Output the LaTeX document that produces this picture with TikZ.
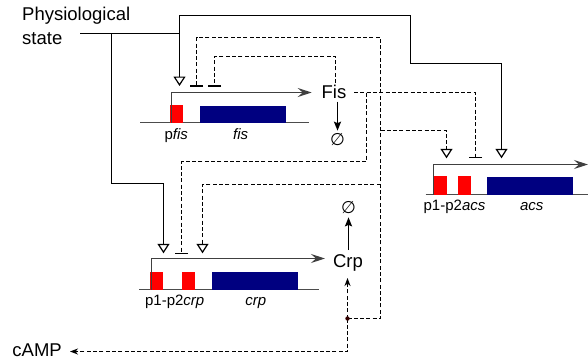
\documentclass[tikz,border=0pt]{standalone}
\usepackage{fontspec}
\setmainfont{Liberation Sans}
\newfontfamily\symfont{DejaVu Sans}
\usetikzlibrary{arrows.meta}
\definecolor{genered}{RGB}{255,0,0}
\definecolor{genenavy}{RGB}{0,0,128}
\begin{document}
\begin{tikzpicture}[x=1pt,y=-1pt,line join=miter,
  ln/.style={line width=1.6pt},
  dsh/.style={line width=1.4pt,dash pattern=on 4pt off 2.3pt},
  dna/.style={draw=black!70,line width=1.2pt},
  tx/.style={draw=black!75,line width=1.2pt,-{Stealth[length=14pt,width=9pt,inset=5pt]}},
  opentri/.tip={Triangle[open,length=9.5pt,width=12pt,fill=white,line width=1.2pt]},
  repbar/.tip={Bar[width=13pt,line width=1.3pt]},
  degr/.tip={Stealth[length=9pt,width=7pt,inset=1.5pt]},
  smallhead/.tip={Stealth[length=8pt,width=6pt,inset=2.5pt]},
  prom/.style={fill=genered},
  cds/.style={fill=genenavy},
  lab/.style={font=\fontsize{18.5}{24}\selectfont,inner sep=0pt},
  nul/.style={font=\symfont\itshape\fontsize{17}{20}\selectfont,inner sep=0pt},
  glab/.style={font=\fontsize{15}{17}\selectfont,inner sep=0pt,anchor=base},
]
\useasboundingbox (0,0) rectangle (588,362);

% ---------- labels ----------
\node[lab,anchor=base west] (phys) at (22,20) {Physiological};
\node[lab,anchor=base west] (state) at (22,44.3) {state};
\node[lab,anchor=base] (Fis) at (334,98) {Fis};
\node[lab,anchor=base] (Crp) at (348,267) {Crp};
\node[lab,anchor=base east] (camp) at (62,356.5) {cAMP};
\node[nul] (e1) at (337.5,140) {∅};
\node[nul] (e2) at (348.5,208) {∅};

% ---------- fis gene ----------
\draw[dna] (140,122.5) coordinate (fisL) -- (309,122.5) coordinate (fisR);
\fill[prom] (170,105) rectangle (183,122.5);
\fill[cds] (200,106) rectangle (286,122.5);
\coordinate (fisTSS) at (171.5,122.5);
\coordinate (fisEnd) at (311.7,92.5);
\draw[tx] (fisTSS) |- (fisEnd);
\node[glab] (pfis) at (176.3,139) {p\textit{fis}};
\node[glab] (fisg) at (240.7,139) {\textit{fis}};

% ---------- crp gene ----------
\draw[dna] (139.3,289.5) -- (319.3,289.5);
\fill[prom] (150,272.3) rectangle (163,289.5);
\fill[prom] (182,272.3) rectangle (195,289.5);
\fill[cds] (212,272.3) rectangle (298,289.5);
\coordinate (crpTSS) at (151.5,289.5);
\coordinate (crpEnd) at (325,258.5);
\draw[tx] (crpTSS) |- (crpEnd);
\node[glab] (pcrp) at (174.7,305.5) {p1-p2\textit{crp}};
\node[glab] (crpg) at (255.7,305.5) {\textit{crp}};

% ---------- acs gene ----------
\draw[dna] (425.7,194.5) -- (588,194.5);
\fill[prom] (433,175.7) rectangle (447,194.5);
\fill[prom] (458,175.7) rectangle (471,194.5);
\fill[cds] (487,176.7) rectangle (573,194.5);
\coordinate (acsTSS) at (433.5,194.5);
\coordinate (acsEnd) at (588,164.5);
\draw[tx] (acsTSS) |- (acsEnd);
\node[glab] (pacs) at (454.5,210) {p1-p2\textit{acs}};
\node[glab] (acsg) at (531.7,210) {\textit{acs}};

% ---------- target sites ----------
\coordinate (fisA) at (179.5,86);
\coordinate (fisB1) at (196.5,86.5);
\coordinate (fisB2) at (214.5,86.5);
\coordinate (crpA1) at (163.5,253.3);
\coordinate (crpB) at (181.5,254);
\coordinate (crpA2) at (202.5,253.3);
\coordinate (acsA1) at (446.5,158.3);
\coordinate (acsB) at (475.5,158.3);
\coordinate (acsA2) at (501.5,158.3);

% ---------- physiological state (solid) ----------
\coordinate (ps) at (80,33.5);
\draw[ln] (ps) -- (179.5,33.5);
\draw[ln,opentri-opentri] (fisA) -- (179.5,15.5) -- (410.5,15.5) -- (410.5,63.5) -- (501.5,63.5) -- (acsA2);
\draw[ln,-opentri] (111.5,33.5) -- (111.5,183.5) -| (crpA1);

% ---------- degradation ----------
\draw[ln,-degr,shorten >=3pt] (337.5,101.7) -- (e1.north);
\draw[ln,-degr,shorten >=3pt] (348.5,250) -- (e2.south);

% ---------- Fis regulation (dashed) ----------
\draw[dsh,-repbar] (335.5,83) -- (335.5,56.5) -| (fisB2);
\draw[dsh,-repbar] (354,92.5) -| (acsB);
\draw[dsh,-repbar] (366.5,92.5) -- (366.5,161.5) -| (crpB);

% ---------- Crp / cAMP regulation (dashed) ----------
\coordinate (dot) at (347.5,318.5);
\draw[dsh,-smallhead] (dot) -- (347.5,278);
\draw[dsh,-smallhead] (dot) -- (347.5,351.5) -- (70,351.5);
\draw[dsh,-repbar] (dot) -- (380.5,318.5) -- (380.5,37.5) -| (fisB1);
\draw[dsh,-opentri] (380.5,130.5) -| (acsA1);
\draw[dsh,-opentri] (380.5,184.5) -| (crpA2);
\fill[black!80!red] (dot) circle (2.2pt);
\end{tikzpicture}
\end{document}
